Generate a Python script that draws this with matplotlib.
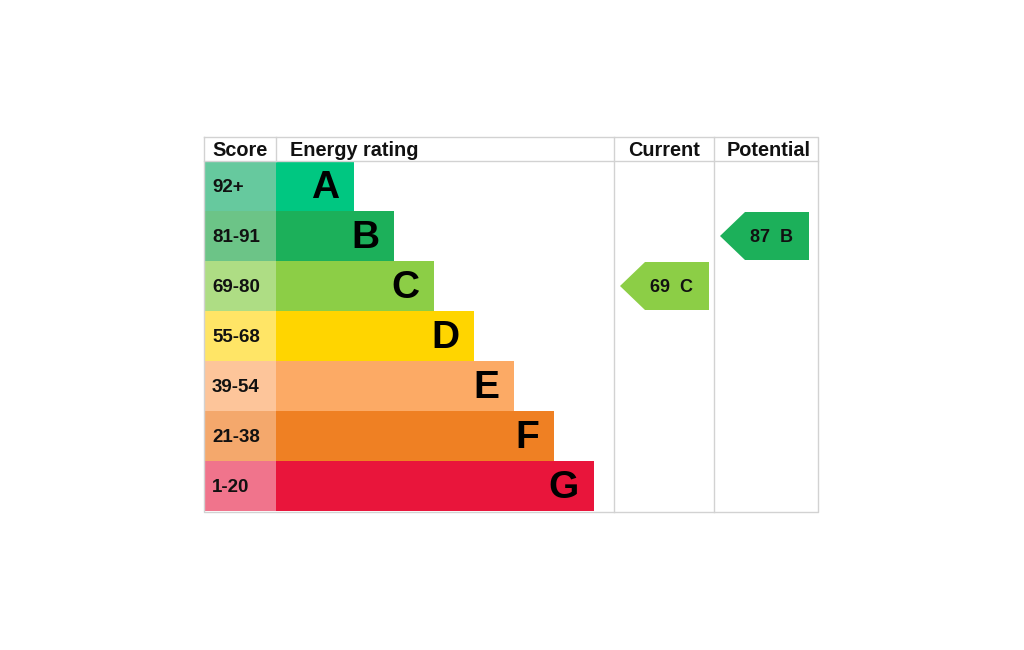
import matplotlib
matplotlib.use("Agg")
import matplotlib.pyplot as plt
from matplotlib.patches import Rectangle, Polygon

# Data
bands = ["A", "B", "C", "D", "E", "F", "G"]
score_ranges = ["92+", "81-91", "69-80", "55-68", "39-54", "21-38", "1-20"]
band_min = [92, 81, 69, 55, 39, 21, 1]
bar_colors = ["#00c781", "#1cb05a", "#8cce46", "#ffd500", "#fcaa65", "#ef8023", "#e9153b"]
score_colors = ["#66c99e", "#6cc487", "#aedd84", "#ffe566", "#fdc59a", "#f4a86c", "#f0748c"]
current = 69
potential = 87

def band_of(score):
    for i, m in enumerate(band_min):
        if score >= m:
            return i
    return len(bands) - 1

# Layout (pixel coords)
left, right, top, bottom = 204, 818, 137, 512
header_h = 24
row_h = 50
score_w = 72
bar0_w = 78
bar_step = 40
col_cur = 614
col_pot = 714
line_col = "#d2d2d2"

fig = plt.figure(figsize=(10.24, 6.5), dpi=100)
ax = fig.add_axes([0, 0, 1, 1])
ax.set_xlim(0, 1024)
ax.set_ylim(650, 0)
ax.axis("off")

rows_top = top + header_h
font = "Liberation Sans"

# bars
for i, b in enumerate(bands):
    y0 = rows_top + i * row_h
    ax.add_patch(Rectangle((left, y0), score_w, row_h, color=score_colors[i], lw=0))
    x_end = left + score_w + bar0_w + i * bar_step
    ax.add_patch(Rectangle((left + score_w, y0), x_end - left - score_w, row_h,
                           color=bar_colors[i], lw=0))
    ax.text(left + 8, y0 + row_h / 2 + 1, score_ranges[i], ha="left", va="center",
            fontsize=13.5, fontweight="bold", family=font, color="#111111")
    ax.text(x_end - 15, y0 + row_h / 2 + 2, b, ha="right", va="center",
            fontsize=28, fontweight="bold", family=font, color="#000000")

# grid lines
lw = 1.0
ax.plot([left, right, right, left, left], [top, top, bottom, bottom, top], color=line_col, lw=lw)
ax.plot([left, right], [rows_top, rows_top], color=line_col, lw=lw)
ax.plot([left + score_w, left + score_w], [top, rows_top], color=line_col, lw=lw)
ax.plot([col_cur, col_cur], [top, bottom], color=line_col, lw=lw)
ax.plot([col_pot, col_pot], [top, bottom], color=line_col, lw=lw)

# header
hy = top + header_h / 2 + 1
hfs = 14.3
ax.text(left + 8, hy, "Score", ha="left", va="center", fontsize=hfs,
        fontweight="bold", family=font, color="#111111")
ax.text(left + score_w + 14, hy, "Energy rating", ha="left", va="center", fontsize=hfs,
        fontweight="bold", family=font, color="#111111")
ax.text((col_cur + col_pot) / 2, hy, "Current", ha="center", va="center", fontsize=hfs,
        fontweight="bold", family=font, color="#111111")
ax.text((col_pot + right) / 2 + 3, hy, "Potential", ha="center", va="center", fontsize=hfs,
        fontweight="bold", family=font, color="#111111")

# arrows
def arrow(col_left, score):
    i = band_of(score)
    y0 = rows_top + i * row_h + 1
    y1 = y0 + row_h - 2
    xl = col_left + 6
    xr = xl + 89
    tip = 25
    pts = [(xl, (y0 + y1) / 2), (xl + tip, y0), (xr, y0), (xr, y1), (xl + tip, y1)]
    ax.add_patch(Polygon(pts, closed=True, color=bar_colors[i], lw=0))
    ax.text((xl + tip + xr) / 2 - 6, (y0 + y1) / 2 + 1, f"{score}  {bands[i]}",
            ha="center", va="center", fontsize=13, fontweight="bold",
            family=font, color="#111111")

arrow(col_cur, current)
arrow(col_pot, potential)

fig.savefig("out.png", dpi=100, facecolor="white")
